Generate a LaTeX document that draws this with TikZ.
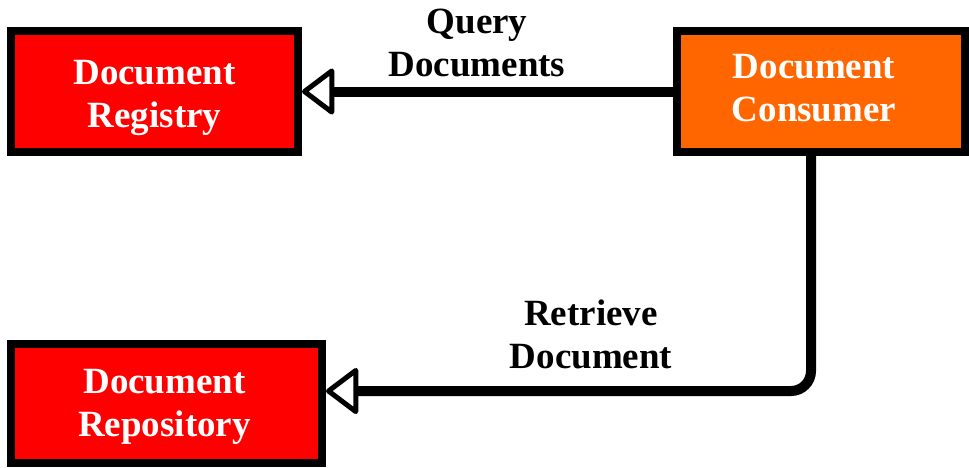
\documentclass[tikz,border=0pt]{standalone}
\usepackage{fontspec}
\setmainfont{Liberation Serif}
\usetikzlibrary{arrows.meta}
\definecolor{boxred}{HTML}{FF0000}
\definecolor{boxorange}{HTML}{FF6600}
\tikzset{
  box/.style={draw=black, line width=8pt, inner sep=0pt},
  boxtext/.style={text=white, align=center,
    font=\bfseries\fontsize{37}{43}\selectfont, inner sep=0pt},
  lbl/.style={align=center, font=\bfseries\fontsize{37}{43}\selectfont, inner sep=0pt},
  conn/.style={line width=10pt, draw=black,
    -{Triangle[length=34pt,width=50pt,line width=5pt,round,fill=white]}},
}
\begin{document}
\begin{tikzpicture}[x=1pt,y=-1pt]
\useasboundingbox (0,0) rectangle (969,467);
\node[box, fill=boxred, minimum width=287pt, minimum height=121pt,
  label={[boxtext, yshift=-6pt]center:Document\\Registry}] (registry) at (154.5,91.5) {};
\node[box, fill=boxorange, minimum width=288pt, minimum height=121pt,
  label={[boxtext, xshift=-7pt, yshift=3pt]center:Document\\Consumer}] (consumer) at (821,91.5) {};
\node[box, fill=boxred, minimum width=311pt, minimum height=119pt,
  label={[boxtext, xshift=-2pt, yshift=-3pt]center:Document\\Repository}] (repository) at (166.5,403.5) {};
\node[lbl] (qlabel) at (477,43) {Query\\Documents};
\node[lbl] (rlabel) at (591,334) {Retrieve\\Document};
\coordinate (start2) at ([xshift=-10pt]consumer.south);
\coordinate (bend) at (811,391);
\draw[conn] (consumer.west) -- (registry.east);
\draw[conn, rounded corners=20pt] (start2) -- (bend) -- (bend -| repository.east);
\end{tikzpicture}
\end{document}
